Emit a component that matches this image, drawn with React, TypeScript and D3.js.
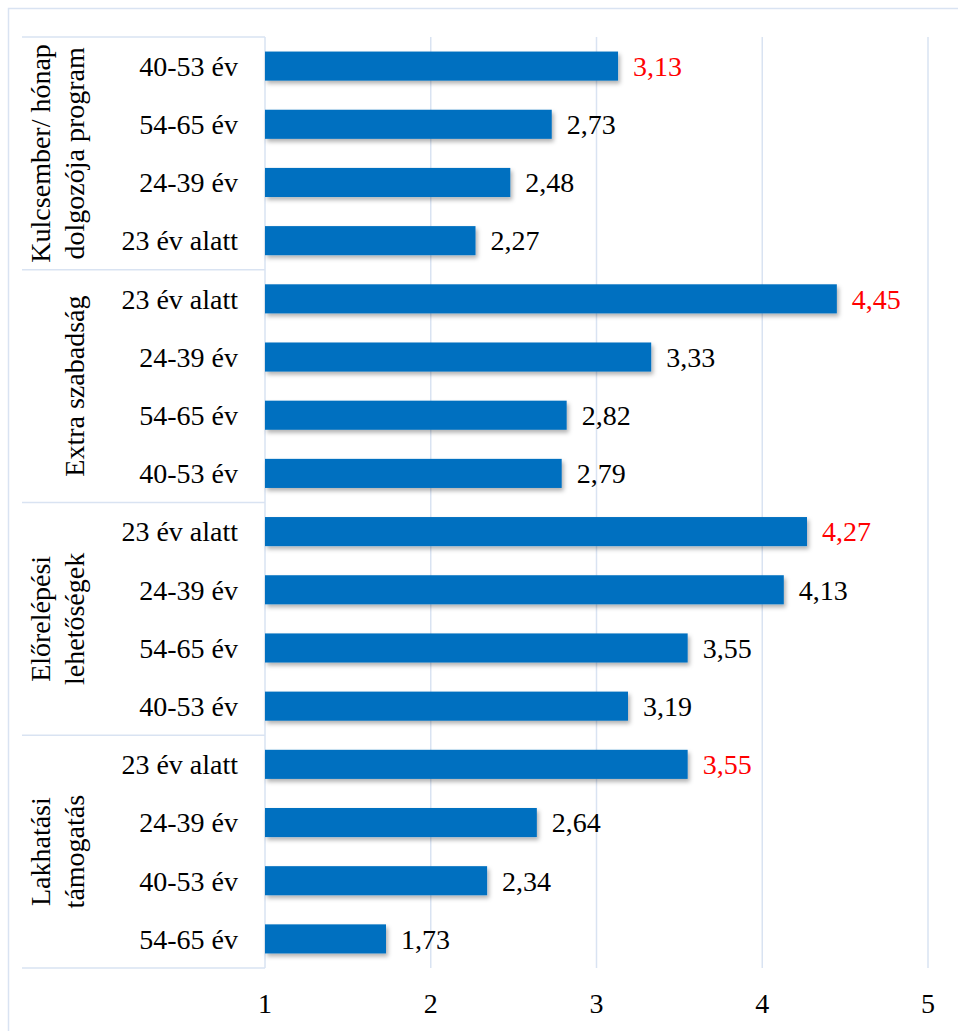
import * as d3 from "d3";

// groups top to bottom, rows inside each group top to bottom
const groups = [
  ["Kulcsember/ hónap", "dolgozója program"],
  ["Extra szabadság"],
  ["Előrelépési", "lehetőségek"],
  ["Lakhatási", "támogatás"],
];

const ages = [
  ["40-53 év", "54-65 év", "24-39 év", "23 év alatt"],
  ["23 év alatt", "24-39 év", "54-65 év", "40-53 év"],
  ["23 év alatt", "24-39 év", "54-65 év", "40-53 év"],
  ["23 év alatt", "24-39 év", "40-53 év", "54-65 év"],
];

const values = [
  [3.13, 2.73, 2.48, 2.27],
  [4.45, 3.33, 2.82, 2.79],
  [4.27, 4.13, 3.55, 3.19],
  [3.55, 2.64, 2.34, 1.73],
];

const xTicks = [1, 2, 3, 4, 5];

const W = 958;
const H = 1031;
const left = 265;
const right = 928;
const top = 37;
const bottom = 968;
const font = "Liberation Serif, Tinos, DejaVu Serif";
const grid = "#d9e3f2";

interface Row {
  group: number;
  label: string;
  value: number;
  best: boolean;
  key: string;
}

const rows: Row[] = [];
values.forEach((vals, g) => {
  const max = d3.max(vals) as number;
  vals.forEach((v, i) => {
    rows.push({ group: g, label: ages[g][i], value: v, best: v === max, key: `${g}-${i}` });
  });
});

const fmt = (v: number) => v.toFixed(2).replace(".", ",");

export default function App() {
  const x = d3.scaleLinear().domain([1, 5]).range([left, right]);
  const y = d3
    .scaleBand<string>()
    .domain(rows.map((r) => r.key))
    .range([top, bottom])
    .paddingInner(0.5)
    .paddingOuter(0.25);
  const step = y.step();
  const groupY = (g: number) => top + step * 4 * g;
  const txt = { fontFamily: font, fontSize: "28px" };

  return (
    <svg
      width={W}
      height={H}
      style={{ position: "absolute", left: 0, top: 0, background: "#fff" }}
    >
      <defs>
        <filter id="shadow" x="-5%" y="-30%" width="110%" height="180%">
          <feDropShadow dx="2" dy="3" stdDeviation="2" floodColor="#000" floodOpacity="0.3" />
        </filter>
      </defs>
      {/* outer frame */}
      <rect x={8.5} y={8.5} width={W + 20} height={H + 20} fill="#fff" stroke={grid} strokeWidth={1.5} />

      {/* gridlines */}
      {xTicks.slice(1).map((t) => (
        <line key={t} x1={x(t)} x2={x(t)} y1={top} y2={bottom} stroke={grid} strokeWidth={1.5} />
      ))}
      <line x1={x(1)} x2={x(1)} y1={top} y2={bottom} stroke={grid} strokeWidth={1.5} />

      {/* group separators */}
      {d3.range(groups.length + 1).map((g) => (
        <line key={g} x1={22} x2={x(1)} y1={groupY(g)} y2={groupY(g)} stroke={grid} strokeWidth={1.5} />
      ))}

      {/* group labels */}
      {groups.map((lines, g) => {
        const cy = groupY(g) + step * 2;
        const bases = lines.length === 2 ? [50, 84] : [84];
        return lines.map((l, i) => (
          <text
            key={`${g}-${i}`}
            transform={`translate(${bases[i]},${cy}) rotate(-90)`}
            textAnchor="middle"
            style={txt}
            fill="#000"
          >
            {l}
          </text>
        ));
      })}

      {/* bars */}
      {rows.map((r) => (
        <rect
          key={r.key}
          x={x(1)}
          y={y(r.key)}
          width={x(r.value) - x(1)}
          height={y.bandwidth()}
          fill="#0070c0"
          filter="url(#shadow)"
        />
      ))}

      {/* category labels */}
      {rows.map((r) => (
        <text
          key={r.key}
          x={238}
          y={(y(r.key) as number) + y.bandwidth() / 2}
          dy="0.35em"
          textAnchor="end"
          style={txt}
          fill="#000"
        >
          {r.label}
        </text>
      ))}

      {/* value labels */}
      {rows.map((r) => (
        <text
          key={r.key}
          x={x(r.value) + 15}
          y={(y(r.key) as number) + y.bandwidth() / 2}
          dy="0.35em"
          style={txt}
          fill={r.best ? "#ff0000" : "#000"}
        >
          {fmt(r.value)}
        </text>
      ))}

      {/* x tick labels */}
      {xTicks.map((t) => (
        <text key={t} x={x(t)} y={1013} textAnchor="middle" style={txt} fill="#000">
          {t}
        </text>
      ))}
    </svg>
  );
}
